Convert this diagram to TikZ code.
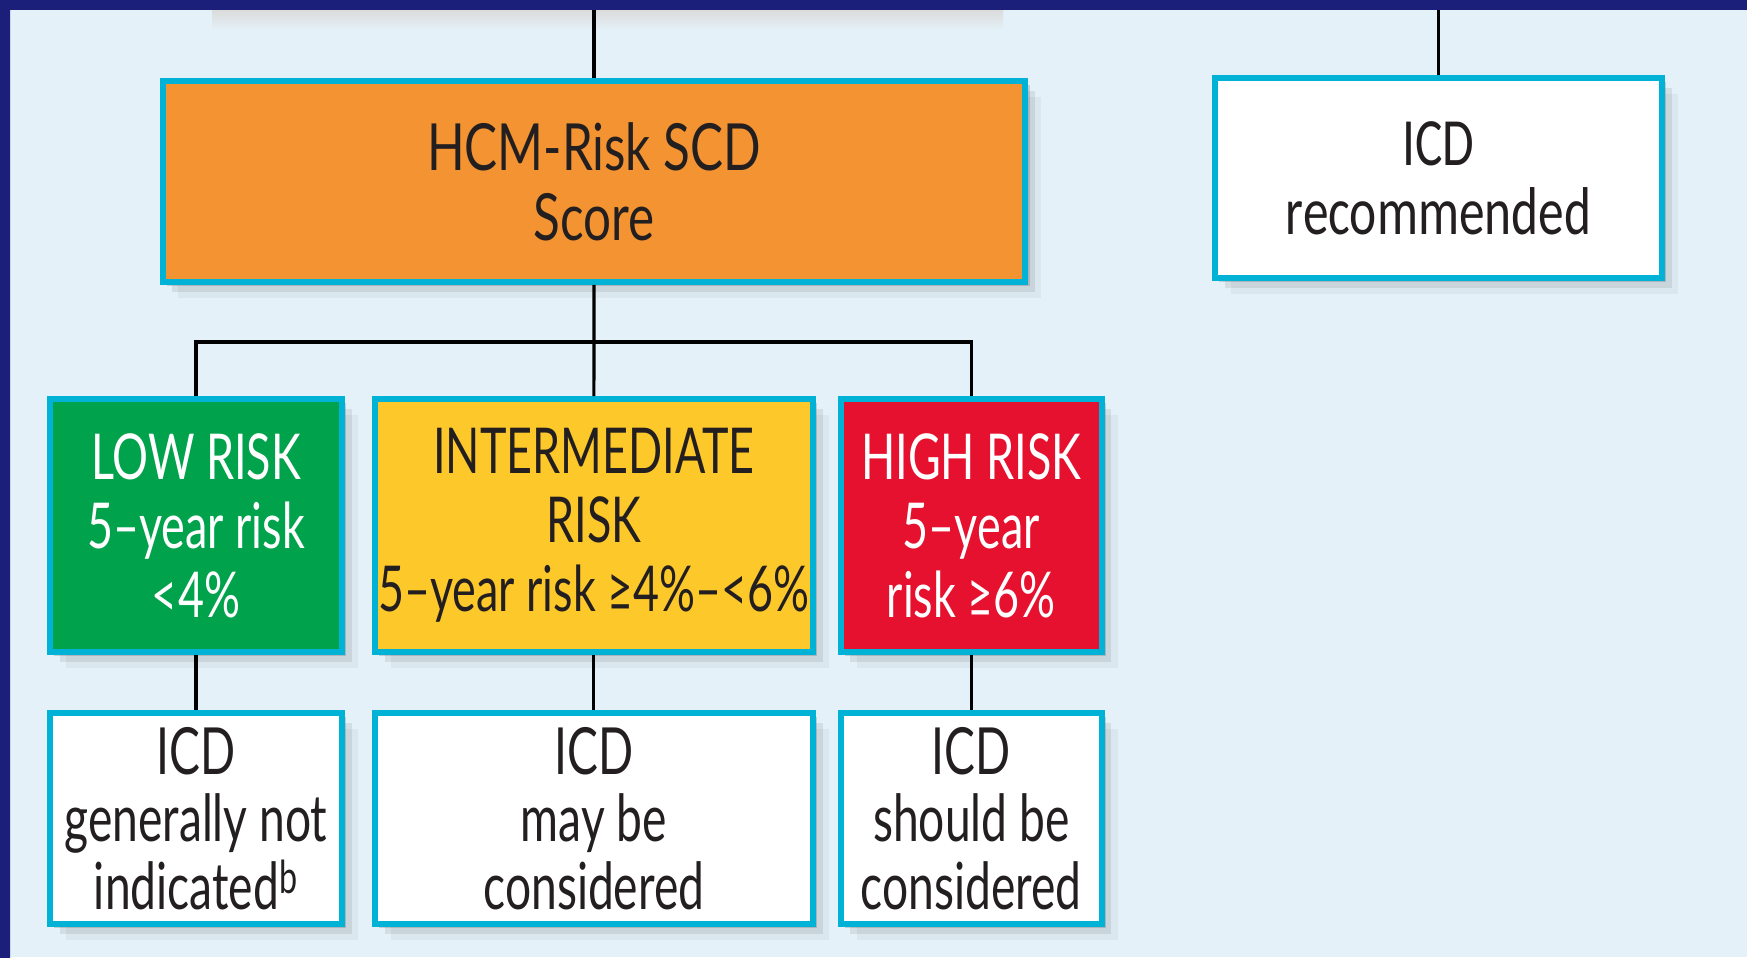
\documentclass[tikz,border=0pt]{standalone}
\usepackage{fontspec}
\setmainfont[FakeStretch=0.76]{Lato}
\newfontfamily\narrowfont[FakeStretch=0.71]{Lato}
\newfontfamily\recfont[FakeStretch=0.76]{Carlito}
\usetikzlibrary{positioning,shadows}

\definecolor{pagebg}{HTML}{E4F1F8}
\definecolor{navy}{HTML}{1B1F7A}
\definecolor{sideblue}{HTML}{3434C4}
\definecolor{cardedge}{HTML}{00B2D6}
\definecolor{hcmorange}{HTML}{F39331}
\definecolor{lowgreen}{HTML}{00A24B}
\definecolor{midyellow}{HTML}{FDC82A}
\definecolor{highred}{HTML}{E6112E}
\definecolor{ink}{HTML}{231F20}

\tikzset{
  card/.style={draw=cardedge, line width=3.4pt, align=center, inner sep=0pt,
    text=ink,
    drop shadow={shadow xshift=2.5pt, shadow yshift=-2.5pt, opacity=.14, fill=black},
    drop shadow={shadow xshift=5.5pt, shadow yshift=-5.5pt, opacity=.08, fill=black},
    drop shadow={shadow xshift=9pt, shadow yshift=-9pt, opacity=.04, fill=black}},
  riskbox/.style={card, minimum height=5.06cm,
    font=\narrowfont\fontsize{36}{39.3}\selectfont},
  icdbox/.style={card, fill=white, minimum height=4.22cm,
    font=\narrowfont\fontsize{37}{38.5}\selectfont},
  link/.style={draw=black, line width=1.8pt}
}

\begin{document}
\begin{tikzpicture}[x=0.02cm, y=-0.02cm]
  % page
  \fill[pagebg] (0,0) rectangle (1747,957);
  \fill[top color=black!14, bottom color=pagebg] (212,10) rectangle (1003,30);
  \fill[navy] (0,0) rectangle (1747,10);
  \fill[top color=navy, middle color=sideblue, bottom color=navy] (0,0) rectangle (10,957);
  \useasboundingbox (0,0) rectangle (1747,957);

  \coordinate (topedge) at (0,10);
  \coordinate (bar) at (0,342);

  % score box and the stand-alone recommendation
  \node[card, fill=hcmorange, minimum width=17.26cm, minimum height=4.02cm,
    font=\fontsize{37}{40}\selectfont] (hcm) at (594,181.5) {HCM-Risk SCD\\Score};
  \node[card, fill=white, minimum width=8.94cm, minimum height=4.0cm,
    font=\recfont\fontsize{38.5}{39.3}\selectfont] (icdrec) at (1438.5,178) {ICD\\recommended};

  % risk categories
  \node[riskbox, fill=lowgreen, text=white, minimum width=5.84cm] (low) at (196,525.5)
    {LOW RISK\\5–year risk\\<4\%};
  \node[riskbox, fill=midyellow, minimum width=8.76cm, right=0.54cm of low] (mid)
    {INTERMEDIATE\\RISK\\5–year risk ≥4\%–<6\%};
  \node[riskbox, fill=highred, text=white, minimum width=5.22cm, right=0.44cm of mid] (high)
    {HIGH RISK\\5–year\\risk ≥6\%};

  % what follows for the ICD
  \node[icdbox, minimum width=5.84cm, below=1.1cm of low] (lowicd)
    {ICD\\generally not\\indicated\textsuperscript{b}};
  \node[icdbox, minimum width=8.76cm, below=1.1cm of mid] (midicd)
    {ICD\\may be\\considered};
  \node[icdbox, minimum width=5.22cm, below=1.1cm of high] (highicd)
    {ICD\\should be\\considered};

  % connectors
  \draw[link] (hcm.north) -- (hcm.north |- topedge);
  \draw[link] (icdrec.north) -- (icdrec.north |- topedge);
  \draw[link] (hcm.south) -- (mid.north);
  \draw[link] (low.north) |- (high.north |- bar) -- (high.north);
  \draw[link] (low.south) -- (lowicd.north);
  \draw[link] (mid.south) -- (midicd.north);
  \draw[link] (high.south) -- (highicd.north);
\end{tikzpicture}
\end{document}
